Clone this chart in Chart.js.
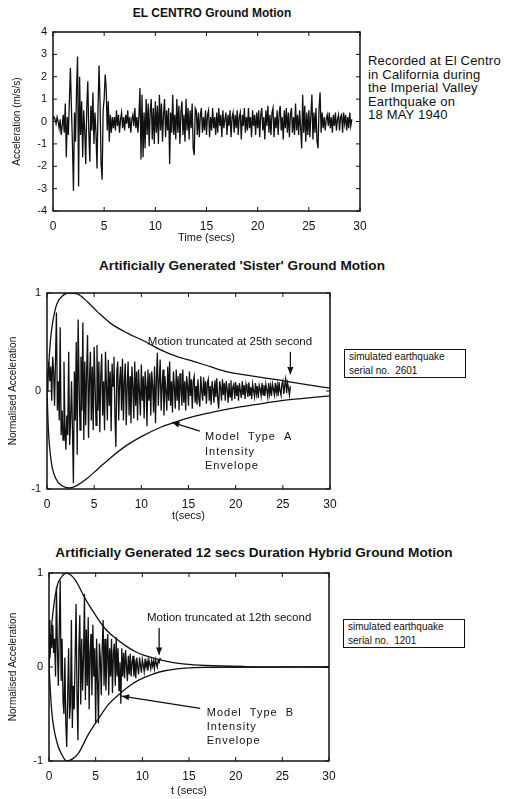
<!DOCTYPE html>
<html>
<head>
<meta charset="utf-8">
<script src="https://cdn.jsdelivr.net/npm/chart.js@4.4.1/dist/chart.umd.min.js"></script>
<style>
    body { margin: 0; width: 506px; height: 799px; position: relative; overflow: hidden; background: #fff;
           font-family: "Liberation Sans", Arial, sans-serif; color: #111; }
    canvas { position: absolute; left: 0; }
    .title { position: absolute; font-size: 12px; font-weight: bold; white-space: nowrap; transform: translate(-50%, -50%); }
    .title.big { font-size: 13.6px; }
    .note { position: absolute; left: 368px; font-size: 13px; letter-spacing: 0.2px; white-space: nowrap; line-height: 13.5px; }
    .box { position: absolute; border: 1.4px solid #111; font-size: 10px; line-height: 14px; padding: 0 0 0 4px; box-sizing: border-box; white-space: nowrap; }
</style>
</head>
<body>
<div class="title" style="left:212px; top:13px;">EL CENTRO Ground Motion</div>
<div class="note" style="top:54px;">Recorded at El Centro<br>in California during<br>the Imperial Valley<br>Earthquake on<br>18 MAY 1940</div>
<canvas id="elCentro" width="372" height="226" style="top:20px;"></canvas>

<div class="title big" style="left:242px; top:265px;">Artificially Generated 'Sister' Ground Motion</div>
<div class="box" style="left:344px; top:349px; width:122px; height:29px;">simulated earthquake<br>serial no.&nbsp;&nbsp;2601</div>
<canvas id="sister" width="342" height="244" style="top:280px;"></canvas>

<div class="title big" style="left:254px; top:552px;">Artificially Generated 12 secs Duration Hybrid Ground Motion</div>
<div class="box" style="left:343px; top:619px; width:122px; height:29px;">simulated earthquake<br>serial no.&nbsp;&nbsp;1201</div>
<canvas id="hybrid" width="341" height="239" style="top:560px;"></canvas>

<script>
// 공통 설정
const FONT = '"Liberation Sans", Arial, sans-serif';
const INK = '#111';
const TIME_STEP = 0.1; // 샘플 간격 (초)

// 눈금
const timeTicks = [0, 5, 10, 15, 20, 25, 30];
const accelTicks = [-4, -3, -2, -1, 0, 1, 2, 3, 4];
const normTicks = [-1, 0, 1];

// EL CENTRO 가속도 (m/s/s), 0.1초 간격
const elCentroAccel = [
    0.1, 0.2, 0.1, -0.1, 0.2, 0.0, -0.3, 0.1, -0.6, -0.2,
    0.3, -0.5, 0.8, -1.6, 0.2, -0.6, 0.9, 2.4, 0.6, -1.0,
    -3.1, 0.4, -0.9, 1.4, 2.9, -2.9, 2.0, -0.6, 0.9, -1.6,
    0.5, -0.4, -1.9, 0.6, 1.8, -0.5, -1.8, 0.7, -0.4, 1.3,
    -1.0, 0.4, -0.5, -2.1, 0.6, 2.5, 0.8, -1.9, -2.6, 0.5,
    1.0, 2.1, 1.5, -0.4, 0.9, -0.9, 0.3, -0.5, 0.2, -0.3,
    0.2, -0.4, 0.5, -0.2, 0.3, -0.5, 0.1, 0.4, -0.3, 0.2,
    -0.4, 0.3, -0.1, 0.5, -0.3, 0.2, -0.5, 0.1, 0.3, -0.2,
    0.6, -0.3, 0.2, -0.5, 0.3, 1.5, -1.7, 1.2, -1.6, 0.4,
    -1.2, 1.0, -0.6, 0.8, -1.1, 0.5, 1.0, -0.8, 0.6, -1.0,
    0.9, -0.5, 0.7, -1.0, 1.2, -0.4, 0.8, -0.9, 0.3, 1.0,
    -0.7, 0.5, -0.4, 0.6, -1.9, 0.4, -0.5, 1.2, -0.6, 0.3,
    -0.8, 1.0, -0.5, 0.7, -1.0, 0.4, 0.9, -0.6, 0.3, -0.9,
    1.0, -0.4, 0.6, -0.8, 0.5, -0.3, 0.8, -1.2, -1.5, 0.6,
    0.5, -0.6, 0.4, -0.7, 0.3, 0.6, -0.5, 0.2, -0.4, 0.5,
    -0.6, 0.3, 0.5, -0.7, 0.2, -0.4, 0.6, -0.3, 0.2, -0.6,
    0.4, -0.5, 0.6, -0.2, 0.3, -0.7, 0.5, -0.3, 0.1, 0.4,
    -0.6, 0.3, -0.2, 0.5, -0.7, 0.2, 0.4, -0.5, 0.3, -0.3,
    0.5, -0.6, 0.2, 0.4, -0.8, 0.3, -0.2, 0.6, -0.5, 0.2,
    -0.4, 0.6, -0.3, 0.2, -0.7, 0.5, -0.2, 0.3, -0.6, 0.4,
    -0.3, 0.5, -0.7, 0.3, 0.6, -0.4, 0.2, -0.8, 0.5, -0.2,
    0.7, -0.5, 0.3, -0.6, 0.4, 0.6, -0.7, 0.2, -0.3, 0.5,
    -0.6, 0.3, 0.7, -0.4, 0.2, -0.8, 0.5, -0.3, 0.6, -0.5,
    0.4, -0.7, 0.3, 0.6, -0.5, 0.2, -0.6, 0.8, -0.4, 0.3,
    -0.6, 0.5, -0.3, -1.2, 1.2, -0.5, 0.7, -0.9, 0.4, -0.6,
    0.5, -0.7, 0.3, 1.2, -0.8, 0.4, -0.5, 0.6, -0.9, -1.2,
    0.6, 1.3, -0.5, 0.4, -0.3, 0.2, -0.4, 0.1, 0.3, -0.2,
    0.4, -0.3, 0.2, -0.5, 0.3, -0.2, 0.4, -0.4, 0.1, 0.3,
    -0.4, 0.2, 0.3, -0.5, 0.4, -0.1, 0.3, -0.4, 0.2, -0.3,
    0.4, -0.2, 0.1
];

// 'Sister' 정규화 가속도, 0.1초 간격 (25.8초에서 절단)
const sisterAccel = [
    0.0, 0.15, 0.3, 0.1, 0.25, -0.1, 0.35, 0.2, -0.15, 0.3,
    0.8, -0.2, 0.1, -0.3, 0.65, -0.45, -0.2, -0.5, 0.3, -0.35,
    -0.6, -0.25, -0.45, 0.4, -0.55, -0.3, 0.1, -0.4, -0.94, 0.2,
    -0.3, 0.5, -0.65, 0.73, 0.1, -0.4, 0.35, -0.2, 0.7, -0.5,
    0.3, -0.35, 0.2, 0.57, -0.48, 0.1, 0.4, -0.3, 0.25, -0.4,
    0.45, 0.05, -0.35, 0.47, -0.2, 0.3, -0.42, 0.15, 0.38, -0.25,
    0.1, -0.4, 0.4, 0.05, -0.3, 0.32, -0.15, 0.2, -0.41, 0.28,
    0.05, 0.35, -0.25, -0.57, 0.2, 0.3, -0.3, 0.1, 0.25, -0.2,
    0.33, -0.3, 0.1, 0.28, -0.35, 0.05, 0.3, -0.25, 0.15, -0.33,
    0.25, 0.05, -0.28, 0.3, -0.15, 0.2, -0.3, 0.22, 0.0, -0.25,
    0.27, -0.1, 0.15, -0.28, 0.2, 0.05, -0.36, 0.22, -0.1, 0.18,
    -0.25, 0.2, 0.05, -0.22, 0.25, -0.33, 0.12, 0.39, -0.15, 0.1,
    0.32, -0.2, 0.05, 0.22, -0.25, 0.15, 0.0, -0.2, 0.25, -0.1,
    0.3, -0.15, 0.1, -0.22, 0.2, 0.05, -0.18, 0.22, -0.1, 0.15,
    -0.2, 0.18, 0.02, -0.15, 0.22, -0.12, 0.1, -0.2, 0.15, 0.05,
    -0.15, 0.2, -0.05, 0.12, -0.18, 0.1, 0.15, -0.12, 0.05, -0.14,
    0.12, -0.08, -0.16, 0.15, 0.0, -0.1, 0.14, -0.05, 0.1, -0.13,
    0.08, 0.12, -0.1, 0.05, -0.14, 0.1, 0.02, -0.12, 0.11, -0.06,
    0.13, -0.08, -0.18, 0.1, 0.04, -0.1, 0.12, -0.04, 0.08, -0.1,
    0.1, 0.02, -0.12, 0.08, -0.06, 0.11, -0.1, 0.04, 0.07, -0.08,
    0.09, -0.05, 0.06, -0.1, 0.08, 0.0, -0.07, 0.1, -0.04, 0.06,
    -0.08, 0.07, 0.02, -0.06, 0.09, -0.05, 0.04, -0.08, 0.07, 0.0,
    -0.06, 0.08, -0.03, 0.05, -0.07, 0.06, 0.02, -0.05, 0.08, -0.04,
    0.06, -0.05, 0.07, 0.01, -0.06, 0.08, -0.03, 0.05, -0.05, 0.07,
    0.02, -0.04, 0.08, -0.02, 0.06, -0.05, 0.09, 0.0, -0.04, 0.07,
    0.1, -0.03, 0.06, 0.12, -0.02, 0.08, 0.03, -0.04, 0.05
];

// Model Type A 강도 포락선
const envATimeUpper = [0, 0.39, 0.92, 1.63, 2.33, 3.22, 4.28, 5.34, 6.75, 8.52, 10.3, 12.05, 13.8, 15.6, 17.4, 19.4, 22, 24.7, 27.2, 30];
const envAUpper = [0, 0.54, 0.85, 0.97, 1.0, 0.99, 0.91, 0.81, 0.69, 0.59, 0.51, 0.42, 0.35, 0.30, 0.245, 0.19, 0.15, 0.11, 0.07, 0.03];
const envATimeLower = [0, 0.15, 0.45, 0.92, 1.63, 2.33, 3.04, 4.28, 5.34, 6.75, 8.52, 10.3, 12.05, 13.8, 15.6, 17.4, 19.4, 22, 24.7, 27.2, 30];
const envALower = [0, -0.4, -0.72, -0.89, -0.97, -0.99, -0.97, -0.89, -0.8, -0.68, -0.55, -0.45, -0.37, -0.31, -0.26, -0.22, -0.18, -0.14, -0.1, -0.075, -0.05];

// 12초 하이브리드 정규화 가속도, 0.1초 간격
const hybridAccel = [
    0.5, 0.1, 0.35, 0.2, 0.45, 0.15, 0.3, -0.1, 0.85, 0.2,
    -0.2, 0.4, 0.92, -0.15, 0.3, -0.35, -0.5, 0.1, -0.6, -0.85,
    -0.3, 0.2, -0.55, -0.4, 0.5, -0.65, -0.2, -0.45, 0.1, 0.67,
    -0.3, -0.78, 0.2, 0.55, -0.4, 0.3, -0.25, 0.1, 0.78, -0.35,
    0.4, -0.2, 0.53, -0.45, 0.15, 0.35, -0.3, 0.45, -0.1, 0.2,
    -0.6, 0.3, -0.15, -0.6, 0.25, 0.1, -0.3, 0.2, 0.5, -0.2,
    0.3, -0.25, 0.1, 0.35, -0.3, 0.2, -0.1, 0.3, -0.28, 0.15,
    0.25, -0.2, 0.32, -0.1, 0.2, -0.25, 0.05, -0.39, 0.2, -0.1,
    0.15, -0.12, 0.18, 0.02, -0.15, 0.12, -0.08, 0.14, -0.1, 0.05,
    0.12, -0.1, 0.08, -0.12, 0.1, 0.0, -0.08, 0.1, 0.02, -0.06,
    0.08, 0.02, -0.05, 0.09, 0.0, 0.06, -0.04, 0.08, 0.03, -0.02,
    0.07, 0.01, 0.06, -0.02, 0.08, 0.04, 0.0, 0.07, 0.05, 0.09,
    0.08
];

// Model Type B 강도 포락선
const envBTimeUpper = [0, 0.29, 0.82, 1.36, 1.89, 2.79, 3.86, 4.93, 6.0, 7.07, 8.15, 9.22, 10.3, 11.7, 13.15, 14.6, 16.7, 21, 30];
const envBUpper = [0, 0.45, 0.84, 0.96, 1.0, 0.93, 0.73, 0.56, 0.41, 0.31, 0.23, 0.165, 0.12, 0.08, 0.05, 0.03, 0.016, 0.005, 0];
const envBTimeLower = [0, 0.29, 0.82, 1.36, 1.89, 2.5, 3.14, 4.2, 5.3, 6.35, 7.4, 8.5, 9.6, 11, 12.4, 14.6, 16.7, 30];
const envBLower = [0, -0.47, -0.79, -0.93, -1.0, -0.98, -0.92, -0.72, -0.55, -0.4, -0.3, -0.21, -0.14, -0.08, -0.04, -0.012, -0.004, 0];

// 데이터 변환
function sampled(values) {
    return values.map((v, i) => ({ x: +(i * TIME_STEP).toFixed(2), y: v }));
}
function curve(times, values) {
    return times.map((t, i) => ({ x: t, y: values[i] }));
}

function traceSet(values) {
    return { data: sampled(values), borderColor: INK, borderWidth: 1.3, pointRadius: 0, tension: 0 };
}
function envelopeSet(times, values) {
    return { data: curve(times, values), borderColor: INK, borderWidth: 1.3, pointRadius: 0, cubicInterpolationMode: 'monotone' };
}

// 테두리와 안쪽 눈금 (상하좌우)
const frameTicks = {
    id: 'frameTicks',
    afterDatasetsDraw(chart) {
        const { ctx, chartArea: a, scales: { x, y } } = chart;
        ctx.save();
        ctx.strokeStyle = INK;
        ctx.lineWidth = 1.5;
        ctx.strokeRect(a.left, a.top, a.right - a.left, a.bottom - a.top);
        ctx.lineWidth = 1;
        ctx.beginPath();
        x.ticks.forEach(t => {
            const px = x.getPixelForValue(t.value);
            ctx.moveTo(px, a.bottom); ctx.lineTo(px, a.bottom - 4);
            ctx.moveTo(px, a.top); ctx.lineTo(px, a.top + 4);
        });
        y.ticks.forEach(t => {
            const py = y.getPixelForValue(t.value);
            ctx.moveTo(a.left, py); ctx.lineTo(a.left + 4, py);
            ctx.moveTo(a.right, py); ctx.lineTo(a.right - 4, py);
        });
        ctx.stroke();
        ctx.restore();
    }
};

// 주석 텍스트와 화살표 (데이터 좌표)
function notesPlugin(notes) {
    return {
        id: 'notes',
        afterDraw(chart) {
            const { ctx, scales: { x, y } } = chart;
            ctx.save();
            ctx.fillStyle = INK;
            ctx.strokeStyle = INK;
            ctx.textBaseline = 'middle';
            notes.texts.forEach(n => {
                ctx.font = n.font;
                ctx.letterSpacing = n.spacing || '0px';
                ctx.textAlign = n.align;
                ctx.fillText(n.text, x.getPixelForValue(n.t), y.getPixelForValue(n.v));
            });
            ctx.letterSpacing = '0px';
            notes.arrows.forEach(ar => {
                const x1 = x.getPixelForValue(ar.from[0]), y1 = y.getPixelForValue(ar.from[1]);
                const x2 = x.getPixelForValue(ar.to[0]), y2 = y.getPixelForValue(ar.to[1]);
                const ang = Math.atan2(y2 - y1, x2 - x1);
                ctx.lineWidth = 1.3;
                ctx.beginPath();
                ctx.moveTo(x1, y1);
                ctx.lineTo(x2, y2);
                ctx.stroke();
                ctx.beginPath();
                ctx.moveTo(x2, y2);
                ctx.lineTo(x2 - 8 * Math.cos(ang - 0.4), y2 - 8 * Math.sin(ang - 0.4));
                ctx.lineTo(x2 - 8 * Math.cos(ang + 0.4), y2 - 8 * Math.sin(ang + 0.4));
                ctx.closePath();
                ctx.fill();
            });
            ctx.restore();
        }
    };
}

function makeChart(id, cfg) {
    return new Chart(document.getElementById(id), {
        type: 'line',
        data: { datasets: cfg.datasets },
        options: {
            responsive: false,
            animation: false,
            events: [],
            layout: { padding: { top: cfg.padTop, right: cfg.padRight, left: 0, bottom: 0 } },
            plugins: { legend: { display: false }, tooltip: { enabled: false } },
            scales: {
                x: {
                    type: 'linear', min: 0, max: 30,
                    afterBuildTicks: s => { s.ticks = timeTicks.map(v => ({ value: v })); },
                    afterFit: s => { s.height = cfg.xHeight; s.paddingLeft = 0; s.paddingRight = 0; },
                    grid: { display: false, drawTicks: false },
                    border: { display: false },
                    ticks: { color: INK, font: { family: FONT, size: 12 }, padding: 8, maxRotation: 0, autoSkip: false },
                    title: { display: true, text: cfg.xTitle, color: INK, font: { family: FONT, size: 11 }, padding: { top: 0, bottom: 1 } }
                },
                y: {
                    type: 'linear', min: cfg.yTicks[0], max: cfg.yTicks[cfg.yTicks.length - 1],
                    afterBuildTicks: s => { s.ticks = cfg.yTicks.map(v => ({ value: v })); },
                    afterFit: s => { s.width = cfg.yWidth; s.paddingTop = 0; s.paddingBottom = 0; },
                    grid: { display: false, drawTicks: false },
                    border: { display: false },
                    ticks: { color: INK, font: { family: FONT, size: 11 }, padding: 6, autoSkip: false },
                    title: { display: true, text: cfg.yTitle, color: INK, font: { family: FONT, size: 10 }, padding: { top: cfg.yTitlePad, bottom: 0 } }
                }
            }
        },
        plugins: [frameTicks, notesPlugin(cfg.notes)]
    });
}

// 1) EL CENTRO
makeChart('elCentro', {
    datasets: [traceSet(elCentroAccel)],
    yTicks: accelTicks,
    xTitle: 'Time (secs)', yTitle: 'Acceleration (m/s/s)',
    padTop: 12, padRight: 12, yWidth: 53, xHeight: 35, yTitlePad: 11,
    notes: { texts: [], arrows: [] }
});

// 2) Sister
makeChart('sister', {
    datasets: [traceSet(sisterAccel), envelopeSet(envATimeUpper, envAUpper), envelopeSet(envATimeLower, envALower)],
    yTicks: normTicks,
    xTitle: 't(secs)', yTitle: 'Normalised Acceleration',
    padTop: 13, padRight: 12, yWidth: 47, xHeight: 35, yTitlePad: 7,
    notes: {
        texts: [
            { text: 'Motion truncated at 25th second', t: 19.4, v: 0.5, align: 'center', font: '11.5px ' + FONT },
            { text: 'Model  Type  A', t: 16.75, v: -0.47, align: 'left', font: '11px ' + FONT, spacing: '1px' },
            { text: 'Intensity', t: 16.75, v: -0.625, align: 'left', font: '11px ' + FONT, spacing: '1px' },
            { text: 'Envelope', t: 16.75, v: -0.77, align: 'left', font: '11px ' + FONT, spacing: '1px' }
        ],
        arrows: [
            { from: [25.8, 0.40], to: [25.8, 0.17] },
            { from: [16.2, -0.41], to: [13.25, -0.32] }
        ]
    }
});

// 3) Hybrid
makeChart('hybrid', {
    datasets: [traceSet(hybridAccel), envelopeSet(envBTimeUpper, envBUpper), envelopeSet(envBTimeLower, envBLower)],
    yTicks: normTicks,
    xTitle: 't (secs)', yTitle: 'Normalised Acceleration',
    padTop: 13, padRight: 12, yWidth: 49, xHeight: 38, yTitlePad: 7,
    notes: {
        texts: [
            { text: 'Motion truncated at 12th second', t: 19.3, v: 0.52, align: 'center', font: '11.5px ' + FONT },
            { text: 'Model  Type  B', t: 16.9, v: -0.49, align: 'left', font: '11px ' + FONT, spacing: '1px' },
            { text: 'Intensity', t: 16.9, v: -0.64, align: 'left', font: '11px ' + FONT, spacing: '1px' },
            { text: 'Envelope', t: 16.9, v: -0.79, align: 'left', font: '11px ' + FONT, spacing: '1px' }
        ],
        arrows: [
            { from: [11.8, 0.415], to: [11.8, 0.13] },
            { from: [16.2, -0.44], to: [7.8, -0.31] }
        ]
    }
});
</script>
</body>
</html>
